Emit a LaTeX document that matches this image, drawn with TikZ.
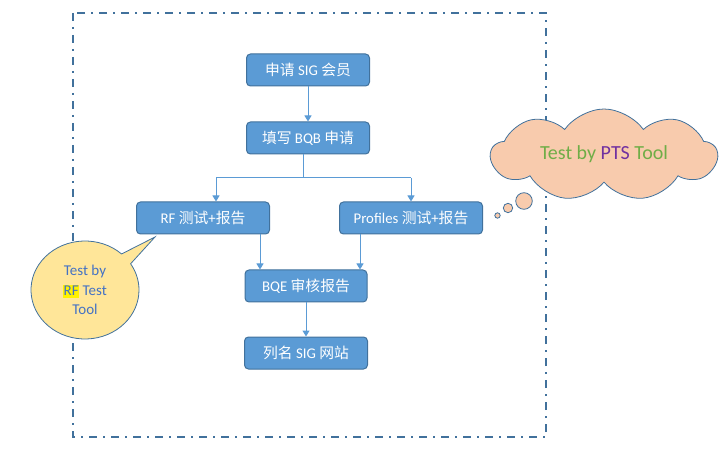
\documentclass[tikz,border=0pt]{standalone}
\usepackage{fontspec}
\setmainfont{Carlito}
\newfontfamily\cjk{Noto Sans CJK SC}
\usetikzlibrary{shapes.symbols,shapes.callouts,arrows.meta}
\definecolor{boxfill}{HTML}{5B9BD5}
\definecolor{boxline}{HTML}{41719C}
\definecolor{calloutfill}{HTML}{FFE699}
\definecolor{cloudfill}{HTML}{F8CBAD}
\definecolor{cloudtext}{HTML}{70AD47}
\definecolor{ptscol}{HTML}{7030A0}
\definecolor{rftext}{HTML}{4472C4}
\newcommand{\hlmark}[1]{{\setlength{\fboxsep}{0.5pt}\colorbox{yellow}{\vphantom{Tp}#1}}}
\tikzset{
  stepbox/.style={draw=boxline, fill=boxfill, rounded corners=4pt, text=white,
    minimum height=32, inner sep=2pt, line width=1pt, font=\fontsize{14.8}{16}\selectfont},
  flow/.style={draw=boxfill, line width=1pt, -{Triangle[width=7pt,length=6pt]}},
  link/.style={draw=boxfill, line width=1pt},
}
\begin{document}
\begin{tikzpicture}[x=1pt,y=-1pt]
 \useasboundingbox (0,0) rectangle (720,454);
 %% dash-dot frame
 \draw[boxline, line width=2pt, dash pattern=on 8pt off 6pt on 2pt off 6pt] (73,13) rectangle (546,437);
 %% flow boxes
 \node[stepbox, minimum width=123] (apply) at (308,70) {{\cjk 申请} SIG {\cjk 会员}};
 \node[stepbox, minimum width=123] (bqb) at (308,138) {{\cjk 填写} BQB {\cjk 申请}};
 \node[stepbox, minimum width=133] (rf) at (203,218) {RF {\cjk 测试}+{\cjk 报告}};
 \node[stepbox, minimum width=143] (prof) at (411,218) {Profiles {\cjk 测试}+{\cjk 报告}};
 \node[stepbox, minimum width=122] (bqe) at (306,286) {BQE {\cjk 审核报告}};
 \node[stepbox, minimum width=123] (list) at (306,353) {{\cjk 列名} SIG {\cjk 网站}};
 %% connectors
 \coordinate (split) at (303,178);
 \coordinate (rfin) at (216,178);
 \coordinate (profin) at (411,178);
 \coordinate (rfdown) at (260,0);
 \coordinate (profdown) at (360,0);
 \draw[flow] (apply) -- (bqb);
 \draw[link] (bqb.south -| split) -- (split);
 \draw[link] (rfin) -- (profin);
 \draw[flow] (rfin) -- (rfin |- rf.north);
 \draw[flow] (profin) -- (prof.north);
 \draw[flow] (rf.south -| rfdown) -- (bqe.north -| rfdown);
 \draw[flow] (prof.south -| profdown) -- (bqe.north -| profdown);
 \draw[flow] (bqe) -- (list);
 %% callout for RF tool
 \coordinate (rftip) at (155,237);
 \node[ellipse callout, draw=boxline, fill=calloutfill, line width=0.8pt,
   minimum width=108, minimum height=98, inner sep=0pt,
   callout absolute pointer=(rftip), align=center, text=rftext,
   font=\fontsize{15}{19.5}\selectfont] (rfnote) at (85,290) {Test by\\\hlmark{RF} Test\\Tool};
 %% cloud for PTS tool
 \node[cloud, cloud puffs=9, cloud puff arc=110, cloud ignores aspect, draw=boxline,
   fill=cloudfill, line width=0.8pt, minimum width=226, minimum height=92,
   text=cloudtext, font=\fontsize{20}{22}\selectfont] (ptsnote) at (604,155)
   {\raisebox{5pt}{Test by \textcolor{ptscol}{PTS} Tool}};
 \draw[boxline, fill=cloudfill, line width=0.8pt] (524,201) circle (8.3);
 \draw[boxline, fill=cloudfill, line width=0.8pt] (508,208) circle (4.7);
 \draw[boxline, fill=cloudfill, line width=0.8pt] (497.5,215.5) circle (2.7);
\end{tikzpicture}
\end{document}
